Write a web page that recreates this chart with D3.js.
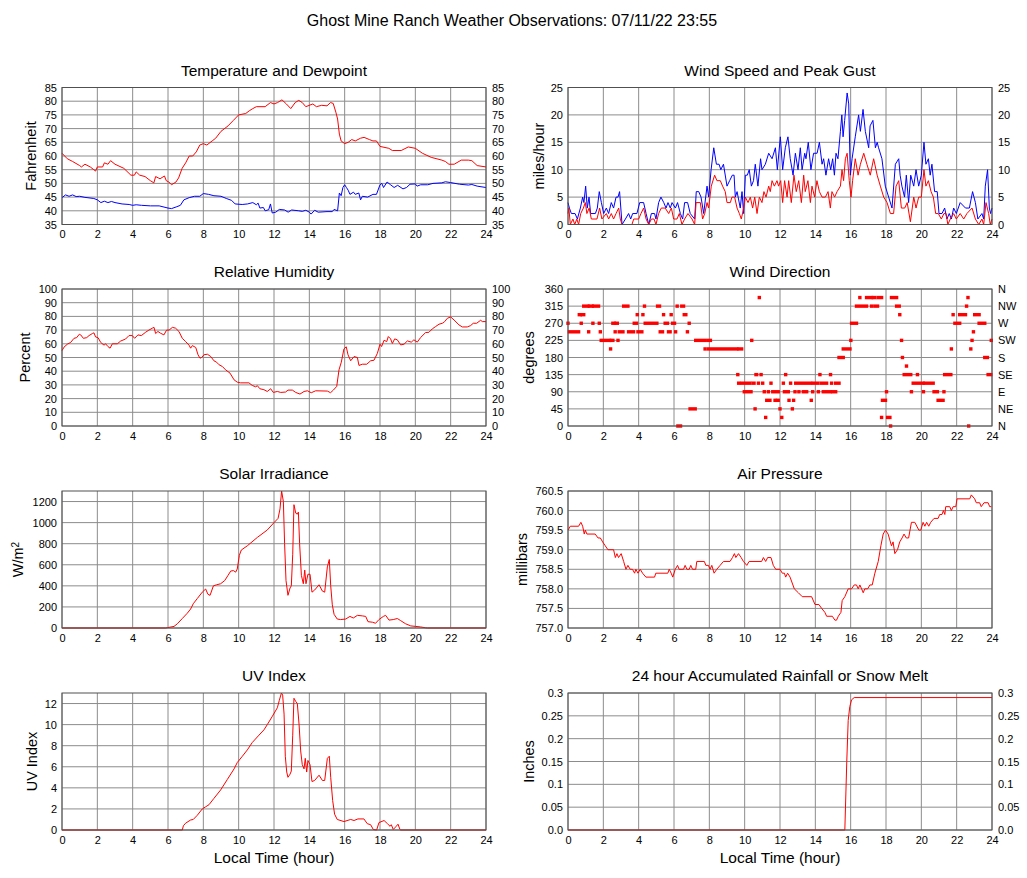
<!DOCTYPE html>
<html>
<head>
<meta charset="utf-8">
<script src="https://cdn.jsdelivr.net/npm/d3@7"></script>
<style>
  body { margin: 0; background: #fff; }
  text { font-family: "Liberation Sans", Arial, Helvetica, sans-serif; fill: #000; }
</style>
</head>
<body>
<svg id="chart" width="1027" height="878"></svg>
<script>
// heures de l'axe x
const hourTicks = [0, 2, 4, 6, 8, 10, 12, 14, 16, 18, 20, 22, 24];

// graduations des axes y
const tempTicks = [35, 40, 45, 50, 55, 60, 65, 70, 75, 80, 85];
const windTicks = [0, 5, 10, 15, 20, 25];
const humidityTicks = [0, 10, 20, 30, 40, 50, 60, 70, 80, 90, 100];
const dirTicks = [0, 45, 90, 135, 180, 225, 270, 315, 360];
const compassLabels = ["N", "NE", "E", "SE", "S", "SW", "W", "NW", "N"];
const solarTicks = [0, 200, 400, 600, 800, 1000, 1200];
const pressureTicks = [757.0, 757.5, 758.0, 758.5, 759.0, 759.5, 760.0, 760.5];
const uvTicks = [0, 2, 4, 6, 8, 10, 12];
const rainTicks = [0, 0.05, 0.1, 0.15, 0.2, 0.25, 0.3];
const rainLabels = ["0.0", "0.05", "0.1", "0.15", "0.2", "0.25", "0.3"];

// [heure, valeur]
const temperature = [
  [0,61],[0.3,59],[0.6,58],[1.0,56.5],[1.1,56],[1.3,57],[1.6,56],[1.8,55],[1.9,54.5],[2.0,56],
  [2.3,56],[2.4,57.5],[2.6,57],[2.75,58.3],[3.0,57],[3.5,55.5],[3.9,53],[4.1,53],[4.2,54.2],[4.4,53],
  [4.7,52.5],[5.0,51],[5.2,50.2],[5.3,52.5],[5.45,52],[5.55,51.7],[5.8,52.7],[5.9,51],[6.05,50.5],[6.2,49.5],
  [6.45,50.5],[6.6,52],[6.8,55.5],[7.0,57.5],[7.2,60],[7.4,60],[7.6,61.5],[7.8,64],[8.0,64.5],[8.2,64],
  [8.5,65.5],[8.7,66.5],[9.0,69],[9.4,71],[9.7,73],[10.0,75],[10.4,75.5],[10.6,76.5],[10.8,77.3],[11.0,78],
  [11.5,78],[11.8,79.5],[12.0,79],[12.2,79.5],[12.45,80.5],[12.7,79],[12.95,77.3],[13.2,79.5],[13.4,80.3],[13.6,79.5],
  [13.8,78],[14.2,79],[14.4,78],[14.7,78.5],[15.0,78.3],[15.2,79.5],[15.35,79.2],[15.5,76],[15.6,73.5],[15.7,68],
  [15.8,65.5],[16.0,64.5],[16.2,65],[16.4,66],[16.6,65.5],[16.9,66.5],[17.1,66.8],[17.4,66],[17.6,65.5],[17.8,65.5],
  [18.0,63.5],[18.5,62.8],[18.7,62],[19.2,62],[19.6,63.3],[20.0,62.8],[20.4,61],[20.9,59.5],[21.5,58.5],[21.7,58],
  [21.9,57],[22.2,57],[22.6,58.5],[23.0,58.5],[23.2,58.3],[23.5,56.5],[24.0,56]
];

const dewpoint = [
  [0,44.8],[0.2,45.8],[0.4,45.3],[0.6,45.8],[0.8,45.2],[1.0,45.3],[1.3,44.9],[1.8,44.5],[2.0,44],[2.2,43],
  [2.4,43.5],[2.6,43],[2.8,43.4],[3.0,43],[3.4,42.5],[3.8,42.3],[4.0,42],[4.2,42.2],[4.5,42],[5.0,41.8],
  [5.5,41.8],[6.0,41],[6.2,40.8],[6.5,41.5],[6.7,42],[6.9,44],[7.2,44.8],[7.5,45.3],[7.8,45.3],[8.0,46.3],
  [8.3,46],[8.6,45.5],[9.0,45.3],[9.3,44.5],[9.6,43.8],[9.8,42.5],[10.2,42.3],[10.5,42.5],[10.8,43],[11.0,42.2],
  [11.1,42.8],[11.2,41],[11.4,41.2],[11.5,40],[11.7,40.4],[11.8,42.5],[11.9,39.2],[12.1,39.5],[12.3,40.5],[12.6,40.3],
  [12.8,39.5],[13.0,40.3],[13.4,40],[13.6,39.8],[13.8,40.2],[14.0,39.5],[14.1,38.8],[14.3,40.2],[14.5,39.5],[15.0,39.7],
  [15.3,39.7],[15.4,40.5],[15.6,40],[15.7,46.5],[15.8,45.5],[15.9,48.5],[16.0,49.5],[16.1,48.5],[16.2,47.5],[16.3,46],
  [16.5,46.8],[16.6,46],[16.8,46.5],[16.9,44],[17.0,45.3],[17.3,45],[17.6,46],[17.8,46],[18.0,49.5],[18.1,50],
  [18.2,48.5],[18.4,50.5],[18.6,49.5],[18.8,48.5],[19.0,49.3],[19.3,48],[19.5,48.5],[19.7,49.7],[20.0,49.8],[20.1,49],
  [20.3,49.5],[20.7,49.5],[21.0,50],[21.5,50.2],[21.7,50.6],[22.0,50.3],[22.5,49.7],[23.0,49.4],[23.2,49.6],[23.5,49],
  [24.0,48.5]
];

const windGust = [
  [0,4],[0.08,3],[0.19,2],[0.4,2],[0.53,1],[0.7,3],[0.83,5],[0.9,4],[1.0,7],[1.09,3],
  [1.19,5],[1.28,2],[1.55,2],[1.66,3],[1.77,6],[1.89,4],[2.02,2],[2.17,3],[2.3,2],[2.45,4],
  [2.58,3],[2.72,5],[2.83,5],[2.92,6],[3.06,0],[3.25,1],[3.43,2],[3.55,1],[3.66,2],[3.9,2],
  [4.06,4],[4.28,4],[4.42,2],[4.57,0],[4.72,2],[4.9,2],[4.98,1],[5.13,4],[5.26,5],[5.42,4],
  [5.55,3],[5.66,4],[5.79,3],[5.89,4],[6.08,3],[6.2,4],[6.36,2],[6.49,1],[6.6,4],[6.77,4],
  [6.92,2],[7.17,1],[7.26,6],[7.4,6],[7.53,5],[7.68,2],[7.87,7],[7.96,5],[8.1,10],[8.25,14],
  [8.4,11],[8.55,11],[8.65,10],[8.8,11],[9.0,7],[9.15,8],[9.3,9],[9.4,9],[9.47,5],[9.57,6],
  [9.75,3],[9.85,6],[9.94,2],[10.04,9],[10.15,9],[10.26,10],[10.38,7],[10.5,8],[10.6,11],[10.75,7],
  [10.9,12],[10.98,10],[11.17,11],[11.36,13],[11.55,12],[11.74,14],[11.85,10],[12.02,16],[12.15,10],[12.3,14],
  [12.45,16],[12.58,12],[12.74,9],[12.87,13],[13.02,10],[13.15,14],[13.25,10],[13.4,13],[13.47,12],[13.6,15],
  [13.75,10],[13.9,13],[14.1,13],[14.23,15],[14.38,11],[14.47,12],[14.6,9],[14.75,12],[14.87,10],[14.98,12],
  [15.08,9],[15.17,13],[15.28,12],[15.42,17],[15.5,20],[15.57,16],[15.66,19],[15.8,24],[15.89,22],[15.98,9],
  [16.08,12],[16.26,16],[16.45,20],[16.55,17],[16.7,21],[16.83,17],[17.02,14],[17.1,18],[17.26,19],[17.4,14],
  [17.5,15],[17.58,14],[17.77,12],[17.96,7],[18.15,5],[18.34,3],[18.53,11],[18.72,12],[18.8,9],[18.9,7],
  [19.05,5],[19.15,9],[19.28,4],[19.4,9],[19.57,7],[19.7,10],[19.85,7],[20.0,9],[20.15,15],[20.26,11],
  [20.4,12],[20.5,9],[20.6,11],[20.75,6],[20.9,6],[21.0,2],[21.17,2],[21.32,3],[21.45,1],[21.58,2],
  [21.7,1],[21.83,3],[21.98,2],[22.2,4],[22.5,3],[22.72,3],[22.9,6],[23.06,4],[23.2,1],[23.43,2],
  [23.53,1],[23.62,7],[23.75,10],[23.85,3],[23.92,2],[24,3]
];

const windSpeed = [
  [0,2],[0.05,3],[0.13,0],[0.28,1],[0.38,0],[0.5,1],[0.6,0],[0.72,2],[0.87,3],[0.98,4],
  [1.07,2],[1.2,3],[1.32,1],[1.64,1],[1.79,3],[1.92,1],[2.17,2],[2.3,1],[2.45,2],[2.58,1],
  [2.72,2],[2.87,3],[2.96,1],[3.06,0],[3.62,0],[3.72,1],[4.0,1],[4.13,2],[4.28,3],[4.42,1],
  [4.57,0],[4.72,1],[4.87,1],[4.98,0],[5.13,2],[5.28,3],[5.5,3],[5.7,2],[5.85,3],[5.98,1],
  [6.17,1],[6.3,2],[6.45,0],[6.6,1],[6.79,2],[7.02,1],[7.17,0],[7.25,4],[7.49,4],[7.62,1],
  [7.74,2],[7.87,4],[7.96,3],[8.11,7],[8.3,9],[8.43,8],[8.62,8],[8.75,7],[8.9,6],[9.0,4],
  [9.19,4],[9.28,5],[9.43,5],[9.57,3],[9.7,2],[9.81,1],[9.94,3],[10.04,5],[10.19,4],[10.32,5],
  [10.45,3],[10.57,5],[10.7,2],[10.83,5],[10.98,4],[11.09,6],[11.21,5],[11.36,7],[11.45,6],[11.55,8],
  [11.68,7],[11.83,8],[11.92,7],[12.04,8],[12.15,4],[12.26,8],[12.4,5],[12.49,8],[12.64,4],[12.79,9],
  [12.92,6],[13.06,8],[13.21,4],[13.34,9],[13.43,6],[13.58,8],[13.72,4],[13.81,7],[13.96,5],[14.09,8],
  [14.23,6],[14.38,5],[14.57,5],[14.72,6],[14.85,3],[14.94,6],[15.09,5],[15.23,6],[15.42,7],[15.51,10],
  [15.6,8],[15.7,12],[15.8,13],[15.92,8],[16.02,5],[16.11,8],[16.26,12],[16.42,9],[16.55,11],[16.74,13],
  [16.92,11],[17.11,9],[17.3,12],[17.5,9],[17.68,7],[17.87,5],[18.06,4],[18.25,2],[18.43,2],[18.57,7],
  [18.72,8],[18.87,3],[19.06,3],[19.2,4],[19.38,0.5],[19.57,5],[19.7,3],[19.85,5],[20.0,5],[20.15,10],
  [20.26,7],[20.4,8],[20.55,6],[20.68,5],[20.81,2],[20.96,2],[21.13,1],[21.28,2],[21.4,2],[21.5,0],
  [21.64,1],[21.83,2],[21.98,1],[22.2,2],[22.4,1],[22.58,2],[22.87,3],[23.06,1],[23.25,0],[23.43,1],
  [23.53,0],[23.66,4],[23.81,2],[23.9,0],[24,1]
];

const humidity = [
  [0,55],[0.11,57.5],[0.3,59.7],[0.49,61],[0.68,64],[0.83,64.5],[0.98,67],[1.06,66.5],[1.21,64],[1.4,64.5],
  [1.53,66],[1.72,67.5],[1.81,68],[1.9,65],[2.04,64.5],[2.19,61],[2.38,59],[2.47,60],[2.6,58],[2.72,56.8],
  [2.85,60],[3.13,60],[3.32,62],[3.6,63.5],[3.79,66],[3.98,66],[4.11,64],[4.3,66.5],[4.49,66],[4.74,68.5],
  [4.92,70],[5.11,71.4],[5.21,72],[5.3,67.5],[5.43,69],[5.58,67.7],[5.77,66.5],[5.92,70],[6.06,70],[6.25,72],
  [6.43,71.4],[6.62,69],[6.81,64],[7.0,61.6],[7.19,59],[7.28,56.8],[7.38,58.7],[7.57,57.3],[7.7,52],[7.81,49.5],
  [7.9,50],[8.04,52],[8.23,52.4],[8.42,50.7],[8.6,47.6],[8.75,46.6],[8.89,44.7],[9.08,43.4],[9.26,41],[9.51,38.6],
  [9.74,33.7],[9.92,32],[10.11,31.5],[10.58,31.5],[10.77,29.6],[10.96,28.6],[11.06,29.4],[11.2,27.2],[11.43,26.5],[11.62,25.2],
  [11.81,27.2],[11.96,24.5],[12.19,25.2],[12.38,24.5],[12.66,24.8],[12.79,26.2],[13.04,26.2],[13.23,24.5],[13.47,23.3],[13.7,25.2],
  [13.89,25.7],[14.11,24.3],[14.36,25.7],[15.02,25.5],[15.2,24.3],[15.36,26.2],[15.55,28.9],[15.68,41],[15.81,46.6],[15.96,56.3],
  [16.09,57.8],[16.19,52],[16.34,47.6],[16.53,50.7],[16.72,50],[16.81,44.2],[17.0,45.1],[17.25,45.1],[17.47,47.6],[17.66,48],
  [17.85,53],[18.0,59.7],[18.09,58],[18.23,62.6],[18.38,61.6],[18.47,65.3],[18.6,63.6],[18.7,60.2],[18.83,63.6],[18.98,62.9],
  [19.17,59.2],[19.36,59.7],[19.55,62.1],[19.77,61.2],[19.92,62.9],[20.11,61.2],[20.3,64.6],[20.58,68.2],[20.77,68.4],[20.96,70.9],
  [21.15,72.6],[21.34,74.3],[21.53,75],[21.66,76.2],[21.81,78.6],[22.0,79.6],[22.19,77.4],[22.47,73.8],[22.66,72.3],[22.94,72.3],
  [23.13,73.3],[23.28,75],[23.47,75],[23.7,77.2],[23.79,76.2],[24,76.2]
];

// [heure debut, heure fin, degres] : suites d'observations de direction
const windDirection = [
  [0,0,270],[0.08,0.6,247.5],[0.64,0.7,292.5],[0.75,0.75,270],[0.8,0.89,292.5],[0.89,1.13,315],[1.17,1.17,247.5],
  [1.21,1.37,315],[1.41,1.41,270],[1.45,1.73,315],[1.77,1.77,270],[1.83,1.83,247.5],[1.88,2.35,225],[2.41,2.41,202.5],
  [2.45,2.54,225],[2.54,2.62,270],[2.67,2.67,247.5],[2.71,2.79,270],[2.83,2.83,225],[2.9,3.11,247.5],[3.15,3.39,315],
  [3.43,3.71,247.5],[3.75,3.88,270],[3.92,3.92,292.5],[3.96,4.18,247.5],[4.24,4.24,292.5],[4.33,4.33,315],[4.37,5.03,270],
  [5.07,5.18,315],[5.22,5.35,247.5],[5.41,5.41,292.5],[5.5,5.63,270],[5.69,5.78,247.5],[5.84,5.84,292.5],[5.92,6.03,270],
  [6.09,6.09,247.5],[6.18,6.18,315],[6.22,6.37,0],[6.44,6.54,315],[6.58,6.67,292.5],[6.76,6.76,247.5],[6.86,6.86,270],
  [6.91,7.2,45],[7.23,7.72,225],[7.76,7.76,202.5],[7.91,8.06,225],[7.95,9.55,202.5],[9.61,9.61,135],[9.66,9.66,112.5],
  [9.68,9.83,202.5],[9.83,10.3,112.5],[9.98,10.36,90],[10.4,10.4,225],[10.48,10.53,112.5],[10.59,10.59,45],[10.64,10.68,135],
  [10.78,10.78,112.5],[10.83,10.83,337.5],[10.93,10.93,135],[11.02,11.02,112.5],[11.11,11.11,90],[11.19,11.19,22.5],[11.25,11.43,67.5],
  [11.34,11.34,90],[11.49,11.49,112.5],[11.59,11.9,90],[11.72,11.72,67.5],[11.86,11.9,67.5],[12.0,12.0,45],[12.1,12.1,22.5],
  [12.19,12.19,112.5],[12.25,12.47,90],[12.32,12.32,135],[12.51,12.51,67.5],[12.6,12.6,112.5],[12.7,12.7,45],[12.77,12.77,67.5],
  [12.85,12.85,90],[12.89,13.32,112.5],[13.07,13.07,90],[13.32,13.51,90],[13.51,13.73,112.5],[13.77,13.77,67.5],[13.85,13.85,90],
  [13.88,14.13,112.5],[14.17,14.17,90],[14.26,14.26,135],[14.32,14.64,112.5],[14.45,14.45,90],[14.64,14.83,90],[14.86,14.86,135],
  [14.92,14.92,112.5],[14.98,15.15,90],[15.15,15.34,112.5],[15.34,15.58,180],[15.58,15.96,202.5],[16.01,16.01,225],[16.05,16.33,270],
  [16.33,16.9,315],[16.52,16.52,337.5],[16.9,17.18,337.5],[17.18,17.18,315],[17.28,17.37,337.5],[17.37,17.52,315],[17.56,17.75,337.5],
  [17.75,17.75,22.5],[17.8,17.97,67.5],[18.03,18.03,90],[18.09,18.22,22.5],[18.26,18.26,0],[18.31,18.6,337.5],[18.6,18.75,315],
  [18.78,18.78,292.5],[18.88,18.88,225],[18.93,18.93,180],[19.03,19.4,135],[19.16,19.16,157.5],[19.44,19.44,90],[19.54,20.1,112.5],
  [19.78,19.78,135],[20.12,20.12,90],[20.2,20.67,112.5],[20.72,20.91,90],[20.95,21.23,67.5],[21.28,21.28,90],[21.32,21.67,135],
  [21.7,21.7,202.5],[21.8,21.8,292.5],[21.9,22.17,270],[22.17,22.5,292.5],[22.56,22.56,315],[22.64,22.64,337.5],[22.68,22.68,0],
  [22.8,22.8,202.5],[22.87,22.87,225],[22.95,22.95,247.5],[23.02,23.27,292.5],[23.27,23.59,270],[23.59,23.74,180],[23.78,23.93,135],
  [23.96,23.96,225]
];

const solar = [
  [0,0],[5.87,0],[5.96,3],[6.34,15],[6.53,40],[6.81,90],[7.09,140],[7.28,180],[7.43,230],[7.66,280],
  [7.94,340],[8.13,370],[8.26,320],[8.38,310],[8.57,400],[8.75,410],[8.98,420],[9.21,450],[9.4,500],[9.55,540],
  [9.7,545],[9.83,530],[9.92,560],[10.04,690],[10.15,740],[10.49,780],[11.06,860],[11.62,930],[12.0,1000],[12.23,1040],
  [12.34,1130],[12.43,1300],[12.53,1200],[12.6,800],[12.68,450],[12.79,310],[12.91,380],[12.98,400],[13.06,700],[13.13,1170],
  [13.23,1090],[13.32,1080],[13.38,1100],[13.45,800],[13.55,500],[13.66,420],[13.74,550],[13.81,420],[13.92,510],[14.04,510],
  [14.15,340],[14.3,360],[14.55,410],[14.74,350],[14.87,340],[15.02,580],[15.13,650],[15.21,400],[15.3,220],[15.4,130],
  [15.58,85],[15.77,80],[16.06,85],[16.3,110],[16.49,95],[16.72,120],[17.0,115],[17.19,110],[17.32,60],[17.57,55],
  [17.75,45],[17.94,80],[18.19,110],[18.32,120],[18.51,75],[18.75,80],[18.98,90],[19.17,70],[19.45,40],[19.74,20],
  [20.02,15],[20.3,10],[20.58,2],[20.68,0],[24,0]
];

const pressure = [
  [0,759.5],[0.13,759.6],[0.6,759.6],[0.73,759.7],[0.83,759.6],[0.92,759.4],[0.98,759.5],[1.07,759.4],[1.54,759.4],[1.7,759.3],
  [1.83,759.3],[1.96,759.2],[2.11,759.1],[2.26,759.0],[2.58,759.0],[2.68,758.8],[2.77,758.9],[2.86,758.8],[3.01,758.9],[3.15,758.7],
  [3.28,758.5],[3.39,758.6],[3.52,758.5],[3.65,758.5],[3.77,758.4],[3.84,758.5],[3.96,758.4],[4.09,758.5],[4.22,758.4],[4.41,758.3],
  [4.9,758.3],[4.97,758.4],[5.65,758.4],[5.73,758.5],[5.84,758.4],[5.93,758.3],[6.07,758.5],[6.2,758.6],[6.29,758.5],[6.54,758.5],
  [6.63,758.6],[6.73,758.5],[6.86,758.5],[6.95,758.6],[7.05,758.5],[7.23,758.5],[7.29,758.7],[7.72,758.7],[7.8,758.6],[7.95,758.6],
  [8.04,758.5],[8.14,758.6],[8.27,758.4],[8.42,758.5],[8.61,758.6],[8.8,758.7],[9.17,758.7],[9.31,758.8],[9.42,758.9],[9.5,758.8],
  [9.65,758.9],[9.8,758.8],[9.93,758.7],[10.12,758.6],[10.25,758.7],[10.96,758.7],[11.06,758.8],[11.19,758.7],[11.3,758.8],[11.49,758.8],
  [11.62,758.6],[11.76,758.5],[12.0,758.5],[12.13,758.4],[12.25,758.4],[12.32,758.3],[12.43,758.4],[12.57,758.3],[12.81,758.0],[13.04,757.9],
  [13.26,757.8],[13.79,757.8],[13.98,757.6],[14.2,757.6],[14.36,757.5],[14.54,757.4],[14.64,757.3],[14.96,757.3],[15.11,757.2],[15.2,757.2],
  [15.3,757.3],[15.45,757.4],[15.52,757.7],[15.67,757.8],[15.86,758.0],[16.05,758.0],[16.2,758.1],[16.33,758.1],[16.43,758.0],[16.52,758.1],
  [16.62,758.0],[16.71,757.9],[16.8,758.0],[16.96,758.0],[17.09,758.1],[17.22,758.1],[17.37,758.4],[17.56,758.7],[17.71,759.1],[17.84,759.4],
  [17.97,759.5],[18.12,759.4],[18.31,759.1],[18.4,759.2],[18.5,758.9],[18.65,759.0],[18.78,759.2],[18.91,759.3],[19.02,759.4],[19.15,759.3],
  [19.28,759.3],[19.44,759.7],[19.63,759.7],[19.86,759.5],[19.97,759.5],[20.1,759.7],[20.2,759.6],[20.3,759.7],[20.42,759.6],[20.53,759.7],
  [20.72,759.8],[20.95,759.8],[21.04,759.9],[21.17,759.9],[21.25,760.0],[21.33,759.9],[21.38,760.1],[21.61,760.1],[21.7,760.0],[21.8,760.1],
  [21.95,760.1],[22.02,760.3],[22.74,760.3],[22.83,760.4],[23.02,760.3],[23.11,760.2],[23.3,760.2],[23.39,760.1],[23.55,760.2],[23.78,760.2],
  [23.87,760.1],[23.96,760.1]
];

const uvIndex = [
  [0,0],[6.81,0],[6.87,0.4],[7.0,0.65],[7.28,0.95],[7.43,1.0],[7.66,1.4],[7.94,2.0],[8.13,2.2],[8.32,2.4],
  [8.6,3.0],[8.98,3.8],[9.36,4.8],[9.74,5.8],[9.92,6.4],[10.21,7.0],[10.49,7.6],[10.77,8.3],[11.15,9.0],[11.43,9.5],
  [11.62,10.0],[11.91,10.8],[12.19,11.6],[12.3,12.3],[12.42,13.0],[12.49,12.8],[12.57,11.0],[12.64,7.0],[12.72,5.5],[12.79,5.0],
  [12.91,5.3],[12.98,5.6],[13.06,9.0],[13.13,12.5],[13.23,12.2],[13.32,12.0],[13.42,10.0],[13.51,7.5],[13.6,6.2],[13.7,5.8],
  [13.77,6.8],[13.85,5.5],[13.92,6.6],[14.04,6.2],[14.15,4.6],[14.3,4.7],[14.55,5.2],[14.74,4.7],[14.87,4.7],[15.02,6.8],
  [15.13,7.0],[15.21,5.0],[15.32,2.8],[15.43,1.5],[15.58,1.0],[15.96,0.8],[16.34,1.0],[16.53,0.9],[16.75,1.05],[17.09,1.05],
  [17.28,0.6],[17.47,0.5],[17.62,0.05],[17.81,0],[17.94,0.7],[18.23,0.9],[18.42,0.6],[18.57,0.35],[18.64,0.5],[18.75,0.05],
  [18.89,0.3],[19.02,0.55],[19.13,0.05],[19.17,0],[24,0]
];

const rainfall = [
  [0,0],[15.67,0],[15.78,0.15],[15.86,0.24],[15.95,0.27],[16.05,0.285],[16.2,0.29],[24,0.29]
];

// ---- mise en page ----
const svg = d3.select("#chart");
const colX = [62, 568];
const rowY = [87.5, 289, 491, 693];
const W = 424, H = 137;

const panels = [
  { title: "Temperature and Dewpoint", col: 0, row: 0, domain: [35, 85], ticks: tempTicks, label: "Fahrenheit", labelOff: 31,
    right: tempTicks.map(String), lines: [[temperature, "#ff0000"], [dewpoint, "#0000ff"]] },
  { title: "Wind Speed and Peak Gust", col: 1, row: 0, domain: [0, 25], ticks: windTicks, label: "miles/hour", labelOff: 29,
    right: windTicks.map(String), lines: [[windGust, "#0000ff"], [windSpeed, "#ff0000"]] },
  { title: "Relative Humidity", col: 0, row: 1, domain: [0, 100], ticks: humidityTicks, label: "Percent", labelOff: 37,
    right: humidityTicks.map(String), lines: [[humidity, "#ff0000"]] },
  { title: "Wind Direction", col: 1, row: 1, domain: [0, 360], ticks: dirTicks, label: "degrees", labelOff: 39,
    right: compassLabels, runs: windDirection },
  { title: "Solar Irradiance", col: 0, row: 2, domain: [0, 1300], ticks: solarTicks, label: "W/m", sup: "2", labelOff: 44,
    lines: [[solar, "#ff0000"]] },
  { title: "Air Pressure", col: 1, row: 2, domain: [757, 760.5], ticks: pressureTicks, fmt: d3.format(".1f"), label: "millibars", labelOff: 46,
    lines: [[pressure, "#ff0000"]] },
  { title: "UV Index", col: 0, row: 3, domain: [0, 13], ticks: uvTicks, label: "UV Index", labelOff: 30,
    lines: [[uvIndex, "#ff0000"]], xLabel: true },
  { title: "24 hour Accumulated Rainfall or Snow Melt", col: 1, row: 3, domain: [0, 0.3], ticks: rainTicks, labels: rainLabels, label: "Inches", labelOff: 39,
    right: rainLabels, lines: [[rainfall, "#ff0000"]], xLabel: true }
];

svg.append("text")
  .attr("x", 512).attr("y", 26)
  .attr("text-anchor", "middle")
  .style("font-size", "16px")
  .text("Ghost Mine Ranch Weather Observations: 07/11/22 23:55");

panels.forEach(p => {
  const x0 = colX[p.col], y0 = rowY[p.row];
  const x = d3.scaleLinear().domain([0, 24]).range([x0, x0 + W]);
  const y = d3.scaleLinear().domain(p.domain).range([y0 + H, y0]);
  const g = svg.append("g");

  // grille
  g.selectAll(".vgrid").data(hourTicks).join("line")
    .attr("x1", d => x(d)).attr("x2", d => x(d))
    .attr("y1", y0).attr("y2", y0 + H)
    .attr("stroke", "#8c8c8c").attr("stroke-width", 1);
  g.selectAll(".hgrid").data(p.ticks).join("line")
    .attr("x1", x0).attr("x2", x0 + W)
    .attr("y1", d => y(d)).attr("y2", d => y(d))
    .attr("stroke", "#8c8c8c").attr("stroke-width", 1);

  // courbes
  (p.lines || []).forEach(([data, color]) => {
    const line = d3.line().x(d => x(d[0])).y(d => y(d[1]));
    g.append("path").datum(data)
      .attr("d", line)
      .attr("fill", "none")
      .attr("stroke", color)
      .attr("stroke-width", 1);
  });

  // points de direction du vent
  if (p.runs) {
    g.selectAll(".run").data(p.runs).join("rect")
      .attr("x", d => x(d[0]) - 1.7)
      .attr("width", d => x(d[1]) - x(d[0]) + 3.4)
      .attr("y", d => y(d[2]) - 1.7)
      .attr("height", 3.4)
      .attr("fill", "#ff0000");
  }

  // cadre
  g.append("rect")
    .attr("x", x0).attr("y", y0).attr("width", W).attr("height", H)
    .attr("fill", "none").attr("stroke", "#505050").attr("stroke-width", 1);

  // axes
  const fmt = p.labels ? ((d, i) => p.labels[i]) : (p.fmt || (d => d));
  const axL = g.append("g").attr("transform", `translate(${x0},0)`)
    .call(d3.axisLeft(y).tickValues(p.ticks).tickSize(0).tickPadding(5).tickFormat(fmt));
  axL.select(".domain").remove();

  if (p.right) {
    const axR = g.append("g").attr("transform", `translate(${x0 + W},0)`)
      .call(d3.axisRight(y).tickValues(p.ticks).tickSize(0).tickPadding(6).tickFormat((d, i) => p.right[i]));
    axR.select(".domain").remove();
  }

  const axB = g.append("g").attr("transform", `translate(0,${y0 + H})`)
    .call(d3.axisBottom(x).tickValues(hourTicks).tickSize(0).tickPadding(6));
  axB.select(".domain").remove();

  g.selectAll(".tick text")
    .style("font-size", "11px")
    .style("font-family", "'Liberation Sans', Arial, sans-serif")
    .attr("fill", "#000");

  // titres
  g.append("text")
    .attr("x", x0 + W / 2).attr("y", y0 - 12)
    .attr("text-anchor", "middle")
    .style("font-size", "15.5px")
    .text(p.title);

  const yl = g.append("text")
    .attr("transform", `translate(${x0 - p.labelOff},${y0 + H / 2}) rotate(-90)`)
    .attr("text-anchor", "middle")
    .attr("dy", "0.35em")
    .style("font-size", "14.5px")
    .text(p.label);
  if (p.sup) {
    yl.append("tspan").attr("dy", "-0.45em").style("font-size", "10px").text(p.sup);
  }

  if (p.xLabel) {
    g.append("text")
      .attr("x", x0 + W / 2).attr("y", y0 + H + 33)
      .attr("text-anchor", "middle")
      .style("font-size", "15.5px")
      .text("Local Time (hour)");
  }
});
</script>
</body>
</html>
